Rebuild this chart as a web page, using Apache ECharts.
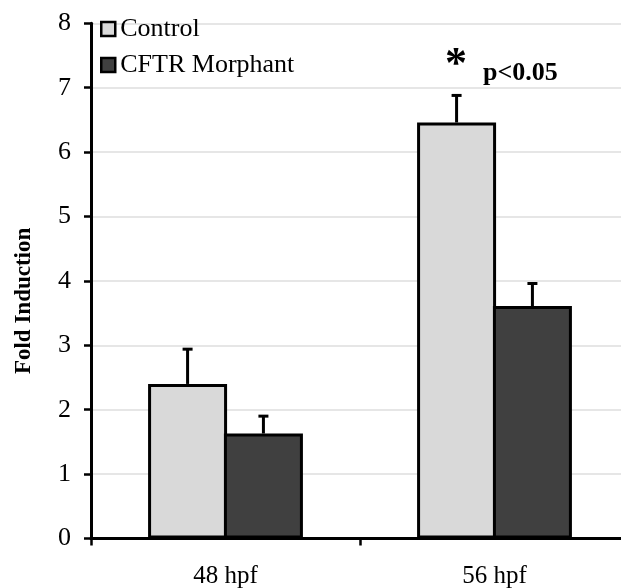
<!DOCTYPE html>
<html>
<head>
<meta charset="utf-8">
<script src="https://cdn.jsdelivr.net/npm/echarts@6/dist/echarts.min.js"></script>
<style>
  html, body { margin: 0; padding: 0; background: #fff; }
  #chart { width: 621px; height: 588px; }
</style>
</head>
<body>
<div id="chart"></div>
<script>
// Time points on the x axis
var categories = ['48 hpf', '56 hpf'];
// Mean fold induction per group
var controlValues = [2.40, 6.46];
var morphantValues = [1.63, 3.61];
// Upper error (SEM) per group
var controlErrors = [0.54, 0.42];
var morphantErrors = [0.27, 0.35];
var seriesNames = ['Control', 'CFTR Morphant'];
var yTicks = [0, 8, 1]; // min, max, interval

var serif = '"Liberation Serif", "Times New Roman", serif';
var BAR_W = 79;
var BAR_GAP = -0.04;               // neighbouring bars share their border
var STEP = BAR_W * (1 + BAR_GAP);  // centre-to-centre distance of the pair

var chart = echarts.init(document.getElementById('chart'), null, { renderer: 'canvas' });

// error bar data: [category index, mean, error, series slot]
var errData = [];
controlValues.forEach(function (v, i) { errData.push([i, v, controlErrors[i], 0]); });
morphantValues.forEach(function (v, i) { errData.push([i, v, morphantErrors[i], 1]); });

function renderErr(params, api) {
  var ci = api.value(0), mean = api.value(1), err = api.value(2), slot = api.value(3);
  var base = api.coord([ci, mean]);
  var top = api.coord([ci, mean + err]);
  var x = base[0] + (slot - 0.5) * STEP;
  var cap = 5;
  var style = { stroke: '#000', lineWidth: 3 };
  return {
    type: 'group',
    children: [
      { type: 'line', shape: { x1: x, y1: base[1], x2: x, y2: top[1] }, style: style },
      { type: 'line', shape: { x1: x - cap, y1: top[1], x2: x + cap, y2: top[1] }, style: style }
    ]
  };
}

var option = {
  animation: false,
  backgroundColor: '#fff',
  grid: {
    left: 91, top: 23.3, width: 538, bottom: 49.5,
    containLabel: false,
    outerBoundsMode: 'none'
  },
  legend: {
    data: seriesNames,
    orient: 'vertical',
    left: 100,
    top: 16,
    padding: 0,
    icon: 'rect',
    itemWidth: 14,
    itemHeight: 14,
    itemGap: 10,
    textStyle: { fontFamily: serif, fontSize: 26, color: '#000', lineHeight: 26 },
    itemStyle: { borderColor: '#000', borderWidth: 2.5 }
  },
  xAxis: {
    type: 'category',
    data: categories,
    axisLine: { lineStyle: { color: '#000', width: 3 } },
    axisTick: { show: true, length: 7, lineStyle: { color: '#000', width: 2.5 } },
    axisLabel: { fontFamily: serif, fontSize: 25, color: '#000', margin: 25 },
    splitLine: { show: false }
  },
  yAxis: {
    type: 'value',
    min: yTicks[0],
    max: yTicks[1],
    interval: yTicks[2],
    name: 'Fold Induction',
    nameLocation: 'middle',
    nameGap: 55,
    nameRotate: 90,
    nameTextStyle: {
      fontFamily: serif, fontSize: 23, fontWeight: 'bold', color: '#000',
      padding: [0, 40, 0, 0]
    },
    axisLine: { show: true, lineStyle: { color: '#000', width: 3 } },
    axisTick: { show: true, length: 7, lineStyle: { color: '#000', width: 2.5 } },
    axisLabel: { fontFamily: serif, fontSize: 26, color: '#000', margin: 20 },
    splitLine: { lineStyle: { color: '#dedede', width: 1.5 } }
  },
  series: [
    {
      name: seriesNames[0],
      type: 'bar',
      data: controlValues,
      barWidth: BAR_W,
      barGap: (BAR_GAP * 100) + '%',
      itemStyle: { color: '#d9d9d9', borderColor: '#000', borderWidth: 3 }
    },
    {
      name: seriesNames[1],
      type: 'bar',
      data: morphantValues,
      barWidth: BAR_W,
      barGap: (BAR_GAP * 100) + '%',
      itemStyle: { color: '#404040', borderColor: '#000', borderWidth: 3 }
    },
    {
      type: 'custom',
      renderItem: renderErr,
      data: errData,
      z: 5,
      silent: true
    }
  ],
  graphic: [
    {
      type: 'text',
      left: 445,
      top: 44,
      style: { text: '*', font: 'bold 44px ' + serif, fill: '#000' }
    },
    {
      type: 'text',
      left: 483,
      top: 60,
      style: { text: 'p<0.05', font: 'bold 26px ' + serif, fill: '#000' }
    }
  ]
};

chart.setOption(option);
</script>
</body>
</html>
